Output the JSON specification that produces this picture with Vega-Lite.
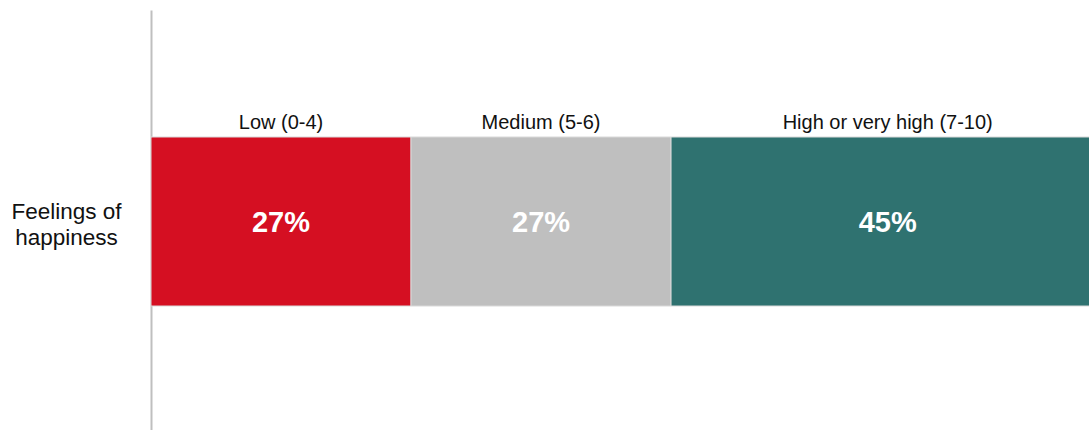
{
  "$schema": "https://vega.github.io/schema/vega-lite/v6.json",
  "width": 938,
  "height": 420,
  "autosize": {"type": "none"},
  "padding": {"left": 151, "top": 10, "right": 0, "bottom": 0},
  "background": "white",
  "config": {"view": {"stroke": null}, "font": "Liberation Sans"},
  "data": {
    "values": [
      {"measure": "Feelings of happiness", "category": "Low (0-4)", "order": 1, "value": 27, "label": "27%"},
      {"measure": "Feelings of happiness", "category": "Medium (5-6)", "order": 2, "value": 27, "label": "27%"},
      {"measure": "Feelings of happiness", "category": "High or very high  (7-10)", "order": 3, "value": 45, "label": "45%"}
    ]
  },
  "transform": [
    {"stack": "value", "groupby": ["measure"], "sort": [{"field": "order"}], "as": ["v0", "v1"]},
    {"calculate": "(datum.v0 + datum.v1) / 2", "as": "mid"}
  ],
  "encoding": {
    "y": {
      "field": "measure",
      "type": "nominal",
      "scale": {"paddingInner": 0, "paddingOuter": 0.7426, "align": 0.506},
      "axis": {
        "title": null,
        "ticks": false,
        "labelPadding": 85,
        "labelAlign": "center",
        "labelBaseline": "middle",
        "labelExpr": "['Feelings of', 'happiness']",
        "labelFontSize": 22.5,
        "labelLineHeight": 26,
        "labelOffset": -10,
        "labelColor": "#111111",
        "labelLimit": 0,
        "domainColor": "#bfbfbf",
        "domainWidth": 2
      }
    }
  },
  "layer": [
    {
      "mark": {"type": "bar", "stroke": "#d9d9d9", "strokeWidth": 1, "clip": true},
      "encoding": {
        "x": {"field": "v0", "type": "quantitative", "scale": {"domain": [0, 97.4], "nice": false, "zero": true}, "axis": null},
        "x2": {"field": "v1"},
        "color": {
          "field": "category",
          "type": "nominal",
          "scale": {"domain": ["Low (0-4)", "Medium (5-6)", "High or very high  (7-10)"], "range": ["#D50F22", "#BFBFBF", "#2F7270"]},
          "legend": null
        }
      }
    },
    {
      "mark": {"type": "text", "color": "white", "fontWeight": "bold", "fontSize": 29, "baseline": "middle", "align": "center", "dy": 1},
      "encoding": {
        "x": {"field": "mid", "type": "quantitative"},
        "text": {"field": "label"}
      }
    },
    {
      "mark": {"type": "text", "color": "#111111", "fontSize": 20, "baseline": "alphabetic", "align": "center", "dy": -8},
      "encoding": {
        "x": {"field": "mid", "type": "quantitative"},
        "y": {"field": "measure", "type": "nominal", "bandPosition": 0},
        "text": {"field": "category"}
      }
    }
  ]
}
